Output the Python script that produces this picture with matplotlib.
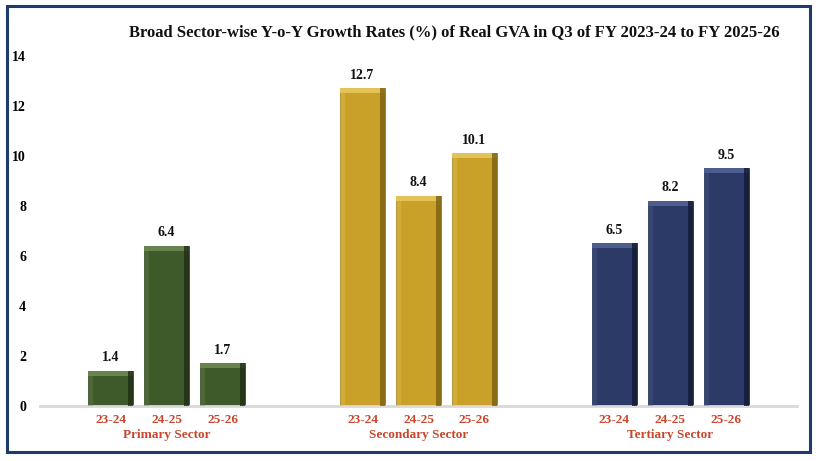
import numpy as np
import matplotlib.pyplot as plt
from matplotlib.patches import Rectangle

sectors = ['Primary Sector', 'Secondary Sector', 'Tertiary Sector']
years = ['23-24', '24-25', '25-26']
primary = [1.4, 6.4, 1.7]
secondary = [12.7, 8.4, 10.1]
tertiary = [6.5, 8.2, 9.5]

colors = ['#3e5a2a', '#c9a129', '#2b3a67']
light = ['#6a8450', '#e3c257', '#4c5d8e']
dark = ['#1f2f14', '#7a5f10', '#121a33']

plt.rcParams['font.family'] = ['Liberation Serif', 'DejaVu Serif']

fig = plt.figure(figsize=(8.18, 4.61), dpi=100)
ax = fig.add_axes([40/818, 1-405.5/461, 757/818, 350/461])

values = [primary, secondary, tertiary]
w = 0.8
dx = 0.09
dy = 0.2
for g, vals in enumerate(values):
    xs = g*4.5 + np.arange(3)
    ax.bar(xs, vals, width=w, color=colors[g], edgecolor=dark[g], linewidth=0.5, zorder=2)
    # bevel highlights
    for j, (x, v) in enumerate(zip(xs, vals)):
        ax.bar(x, dy, bottom=v-dy, width=w, color=light[g], linewidth=0, zorder=3)
        ax.bar(x+w/2-dx/2, v, width=dx, color=dark[g], linewidth=0, zorder=4, alpha=0.8)
        ax.bar(x-w/2+dx/2, v, width=dx, color=light[g], linewidth=0, zorder=4, alpha=0.35)
        ax.text(x, v+0.25, f'{v:.1f}', ha='center', va='bottom', fontsize=10,
                fontweight='bold', color='#111111')
        ax.text(x, -0.35, years[j], ha='center', va='top',
                fontsize=9.5, fontweight='bold', color='#c8452b')
    ax.text(xs[1], -0.95, sectors[g], ha='center', va='top', fontsize=9.5,
            fontweight='bold', color='#c8452b')

ax.set_xlim(-1.26, 12.26)
ax.set_ylim(0, 14)
ax.set_yticks(range(0, 15, 2))
ax.set_xticks([])
for lbl in ax.get_yticklabels():
    lbl.set_fontweight('bold')
    lbl.set_fontsize(10)
ax.tick_params(axis='y', length=0, pad=10)
for s in ['top', 'right', 'left']:
    ax.spines[s].set_visible(False)
ax.spines['bottom'].set_color('#d9d9d9')
ax.spines['bottom'].set_linewidth(2)

fig.text(454/818, 1-32/461, 'Broad Sector-wise Y-o-Y Growth Rates (%) of Real GVA in Q3 of FY 2023-24 to FY 2025-26',
         ha='center', va='center', fontsize=12, fontweight='bold', color='#111111')

fig.patches.append(Rectangle((7/818, 1-452/461), 803/818, 446/461, transform=fig.transFigure,
                             fill=False, edgecolor='#1f3a6e', linewidth=2.2))

fig.savefig('out.png', dpi=100)
